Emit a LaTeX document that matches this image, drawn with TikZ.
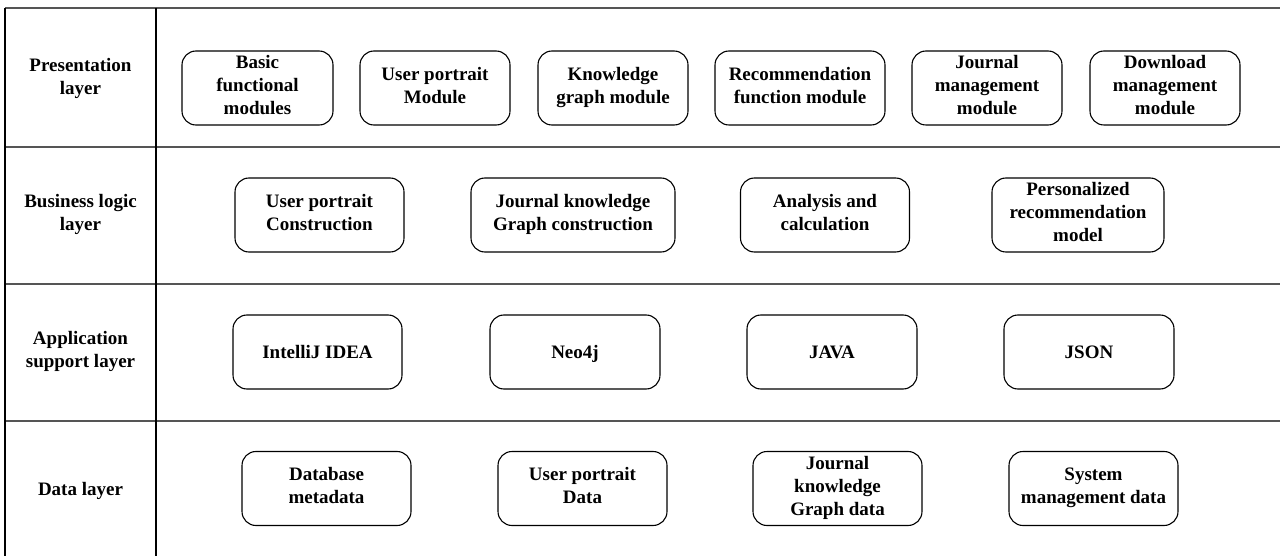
\documentclass[tikz,border=0pt]{standalone}
\usepackage{fontspec}
\setmainfont{Liberation Serif}
\definecolor{rulegray}{RGB}{85,85,85}
\newcommand{\topstrut}{\rule{0pt}{18pt}}
\newcommand{\botstrut}{\rule[-5.5pt]{0pt}{5.5pt}}
\begin{document}
\begin{tikzpicture}[x=1pt,y=-1pt,
	module/.style={draw, line width=1.1pt, rounded corners=14pt, minimum height=74pt, inner sep=0pt, align=center, font=\bfseries\fontsize{19}{23}\selectfont, execute at begin node=\topstrut, execute at end node=\botstrut},
	layername/.style={align=center, font=\bfseries\fontsize{19}{23}\selectfont, execute at begin node=\topstrut, execute at end node=\botstrut},
	hrule/.style={draw=rulegray, line width=1.8pt},
	vrule/.style={draw=black, line width=1.1pt}]
	\useasboundingbox (0,0) rectangle (1280,556);
	% table frame
	\coordinate (T0) at (5,8);
	\coordinate (T1) at (1280,8);
	\coordinate (R1a) at (5,147);
	\coordinate (R1b) at (1280,147);
	\coordinate (R2a) at (5,284);
	\coordinate (R2b) at (1280,284);
	\coordinate (R3a) at (5,421);
	\coordinate (R3b) at (1280,421);
	\coordinate (B0) at (5,556);
	\coordinate (C0) at (156,8);
	\coordinate (C1) at (156,556);
	\draw[hrule] (T0) to (T1);
	\draw[hrule] (R1a) to (R1b);
	\draw[hrule] (R2a) to (R2b);
	\draw[hrule] (R3a) to (R3b);
	\draw[vrule] (T0) to (B0);
	\draw[vrule] (C0) to (C1);
	% layer names
	\node[layername] (pres) at (80.5,79) {Presentation\\layer};
	\node[layername] (bus) at (80.5,215.5) {Business logic\\layer};
	\node[layername] (app) at (80.5,352) {Application\\support layer};
	\node[layername] (data) at (80.5,489) {Data layer};
	% presentation layer
	\node[module, minimum width=151pt] (basic) at (257.5,88) {Basic\\functional\\modules};
	\node[module, minimum width=150pt] (portrait) at (435,88) {User portrait\\Module};
	\node[module, minimum width=150pt] (kgraph) at (613,88) {Knowledge\\graph module};
	\node[module, minimum width=170pt] (recfun) at (800,88) {Recommendation\\function module};
	\node[module, minimum width=150pt] (journal) at (987,88) {Journal\\management\\module};
	\node[module, minimum width=150pt] (download) at (1165,88) {Download\\management\\module};
	% business logic layer
	\node[module, minimum width=169pt] (upc) at (319.5,215) {User portrait\\Construction};
	\node[module, minimum width=204pt] (jkgc) at (573,215) {Journal knowledge\\Graph construction};
	\node[module, minimum width=169pt] (analysis) at (825,215) {Analysis and\\calculation};
	\node[module, minimum width=172pt] (personal) at (1078,215) {Personalized\\recommendation\\model};
	% application support layer
	\node[module, minimum width=169pt] (idea) at (317.5,352) {IntelliJ IDEA};
	\node[module, minimum width=170pt] (neo) at (575,352) {Neo4j};
	\node[module, minimum width=170pt] (java) at (832,352) {JAVA};
	\node[module, minimum width=170pt] (json) at (1089,352) {JSON};
	% data layer
	\node[module, minimum width=169pt] (dbmeta) at (326.5,488.5) {Database\\metadata};
	\node[module, minimum width=169pt] (updata) at (582.5,488.5) {User portrait\\Data};
	\node[module, minimum width=169pt] (jkgdata) at (837.5,488.5) {Journal\\knowledge\\Graph data};
	\node[module, minimum width=169pt] (sysdata) at (1093.5,488.5) {System\\management data};
\end{tikzpicture}
\end{document}
